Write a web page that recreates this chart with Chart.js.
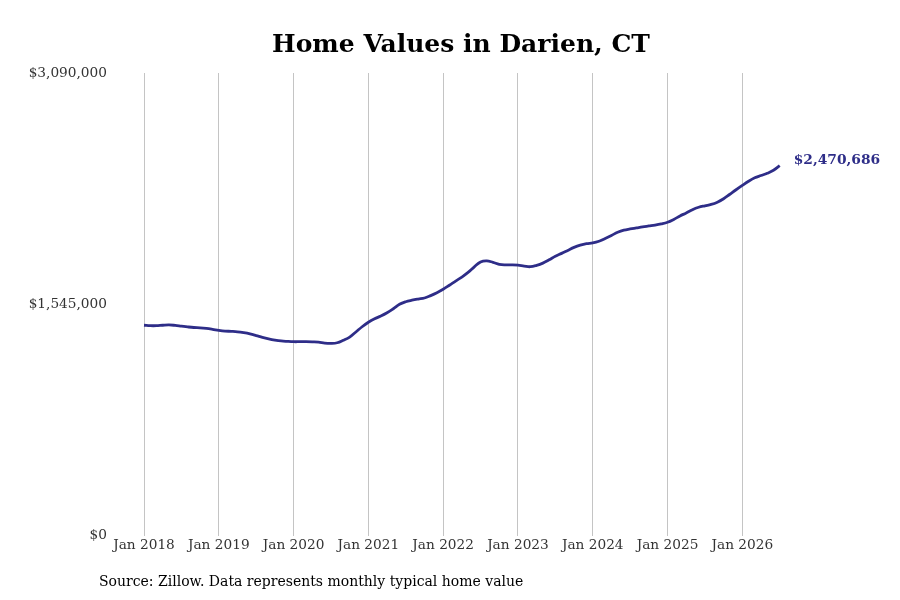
<!DOCTYPE html>
<html>
<head>
<meta charset="utf-8">
<script src="https://cdn.jsdelivr.net/npm/chart.js@4.4.1/dist/chart.umd.min.js"></script>
<style>
  html, body { margin: 0; padding: 0; background: #ffffff; }
  #wrap { width: 900px; height: 600px; position: relative; }
</style>
</head>
<body>
<div id="wrap"><canvas id="c" width="900" height="600"></canvas></div>
<script>
// ---- Data ----
const titleText = "Home Values in Darien, CT";
const sourceText = "Source: Zillow. Data represents monthly typical home value";
const tickLabels = ["Jan 2018","Jan 2019","Jan 2020","Jan 2021","Jan 2022","Jan 2023","Jan 2024","Jan 2025","Jan 2026"];
const yTicks = [0, 1545000, 3090000];
// Monthly typical home value, Jan 2018 .. Jul 2026 (month index 0 = Jan 2018)
const values2018 = [1405000,1402000,1402000,1405000,1407000,1404000,1399000,1394000,1390000,1388000,1384000,1378000];
const values2019 = [1371000,1366000,1364000,1361000,1355000,1347000,1336000,1324000,1314000,1306000,1300000,1297000];
const values2020 = [1295000,1295000,1295000,1294000,1292000,1286000,1284000,1288000,1305000,1326000,1360000,1395000];
const values2021 = [1425000,1448000,1466000,1488000,1515000,1545000,1562000,1572000,1580000,1587000,1603000,1622000];
const values2022 = [1645000,1672000,1700000,1727000,1758000,1795000,1828000,1835000,1825000,1812000,1808000,1808000];
const values2023 = [1806000,1800000,1796000,1805000,1820000,1842000,1866000,1885000,1905000,1925000,1940000,1950000];
const values2024 = [1955000,1966000,1985000,2005000,2026000,2040000,2048000,2055000,2062000,2068000,2074000,2082000];
const values2025 = [2093000,2112000,2135000,2155000,2177000,2193000,2203000,2212000,2227000,2250000,2280000,2310000];
const values2026 = [2339000,2367000,2390000,2405000,2420000,2440000,2470686];

const homeValues = [].concat(values2018, values2019, values2020, values2021, values2022, values2023, values2024, values2025, values2026);
const points = homeValues.map((v, i) => ({ x: i, y: v }));

const lineColor = '#2e2d88';
const fmt = v => '$' + Math.round(v).toLocaleString('en-US');

const endLabel = {
  id: 'endLabel',
  afterDatasetsDraw(chart) {
    const meta = chart.getDatasetMeta(0);
    const last = meta.data[meta.data.length - 1];
    const ctx = chart.ctx;
    ctx.save();
    ctx.font = 'bold 13.8px "DejaVu Serif"';
    ctx.fillStyle = lineColor;
    ctx.textAlign = 'left';
    ctx.textBaseline = 'middle';
    ctx.fillText(fmt(homeValues[homeValues.length - 1]), last.x + 14, last.y - 5);
    ctx.restore();
  }
};

const sourceNote = {
  id: 'sourceNote',
  afterDraw(chart) {
    const ctx = chart.ctx;
    ctx.save();
    ctx.font = '14px "DejaVu Serif"';
    ctx.fillStyle = '#000000';
    ctx.textAlign = 'left';
    ctx.textBaseline = 'middle';
    ctx.fillText(sourceText, 99, 582);
    ctx.restore();
  }
};

new Chart(document.getElementById('c'), {
  type: 'line',
  data: {
    datasets: [{
      data: points,
      borderColor: lineColor,
      borderWidth: 2.8,
      pointRadius: 0,
      pointHoverRadius: 0,
      tension: 0.4,
      fill: false,
      clip: false
    }]
  },
  options: {
    responsive: false,
    animation: false,
    events: [],
    layout: { padding: { left: 22, right: 0, top: 0, bottom: 44 } },
    plugins: {
      legend: { display: false },
      tooltip: { enabled: false },
      title: {
        display: true,
        text: titleText,
        color: '#000000',
        font: { family: '"DejaVu Serif"', size: 25, weight: 'bold' },
        padding: { top: 30, bottom: 13 }
      }
    },
    scales: {
      x: {
        type: 'linear',
        min: 0,
        max: 121.3,
        afterBuildTicks(scale) {
          scale.ticks = tickLabels.map((_, i) => ({ value: i * 12 }));
        },
        ticks: {
          autoSkip: false,
          maxRotation: 0,
          padding: 2,
          color: '#333333',
          font: { family: '"DejaVu Serif"', size: 13.7 },
          callback: v => tickLabels[v / 12]
        },
        grid: { color: '#c4c4c4', lineWidth: 1, drawTicks: false },
        border: { display: false }
      },
      y: {
        min: 0,
        max: 3090000,
        afterBuildTicks(scale) {
          scale.ticks = yTicks.map(v => ({ value: v }));
        },
        afterFit(scale) { scale.width = 122; },
        ticks: {
          padding: 37,
          color: '#333333',
          font: { family: '"DejaVu Serif"', size: 13.7 },
          callback: v => fmt(v)
        },
        grid: { display: false, drawTicks: false },
        border: { display: false }
      }
    }
  },
  plugins: [endLabel, sourceNote]
});
</script>
</body>
</html>
